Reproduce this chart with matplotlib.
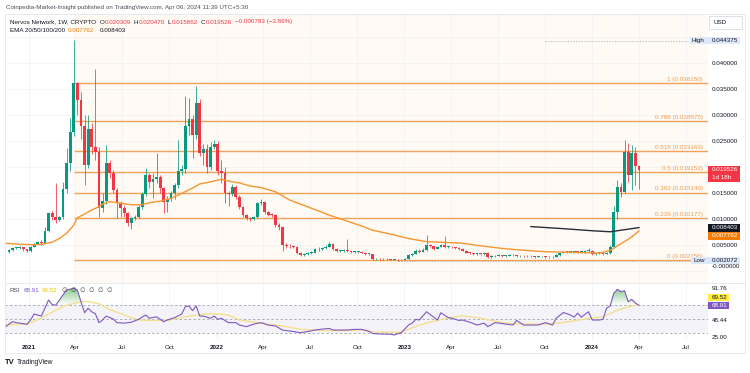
import numpy as np
import pandas as pd
import matplotlib
matplotlib.use("Agg")
import matplotlib.pyplot as plt
import matplotlib.dates as mdates
from matplotlib.transforms import blended_transform_factory, offset_copy, IdentityTransform
from matplotlib.patches import Rectangle, PathPatch
from matplotlib.path import Path
from matplotlib.lines import Line2D

plt.rcParams['font.family'] = ['Liberation Sans', 'DejaVu Sans']

# ---------------- data ----------------
first_week = '2020-11-23'
first_open = 0.0038
closes = [
 0.0041, 0.0045, 0.0045, 0.0046, 0.0042, 0.0039, 0.0047, 0.0053, 0.0056, 0.0055,
 0.0077, 0.0112, 0.0104, 0.0099, 0.0105, 0.0158, 0.0208, 0.0268, 0.0362, 0.0330,
 0.0280, 0.0204, 0.0273, 0.0239, 0.0229, 0.0122, 0.0135, 0.0208, 0.0189, 0.0156,
 0.0131, 0.0122, 0.0112, 0.0093, 0.0102, 0.0105, 0.0124, 0.0149, 0.0185, 0.0172,
 0.0178, 0.0181, 0.0160, 0.0134, 0.0140, 0.0150, 0.0166, 0.0192, 0.0197, 0.0279,
 0.0293, 0.0262, 0.0324, 0.0228, 0.0236, 0.0200, 0.0239, 0.0245, 0.0192, 0.0190,
 0.0151, 0.0148, 0.0163, 0.0143, 0.0124, 0.0108, 0.0102, 0.0101, 0.0105, 0.0131,
 0.0133, 0.0114, 0.0109, 0.0108, 0.0089, 0.0086, 0.0050, 0.0049, 0.0048, 0.0047,
 0.0036, 0.0031, 0.0034, 0.0035, 0.0036, 0.0042, 0.0042, 0.0044, 0.0047, 0.0052,
 0.0042, 0.0039, 0.0039, 0.0040, 0.0039, 0.0037, 0.0038, 0.0038, 0.0036, 0.0033,
 0.0033, 0.0023, 0.0024, 0.0023, 0.0023, 0.0023, 0.0022, 0.0022, 0.0021, 0.0021,
 0.0024, 0.0031, 0.0034, 0.0040, 0.0038, 0.0041, 0.0051, 0.0048, 0.0043, 0.0047,
 0.0050, 0.0047, 0.0047, 0.0046, 0.0045, 0.0043, 0.0040, 0.0036, 0.0035, 0.0033,
 0.0034, 0.0033, 0.0036, 0.0027, 0.0029, 0.0030, 0.0031, 0.0030, 0.0030, 0.0031,
 0.0031, 0.0029, 0.0030, 0.0029, 0.0030, 0.0029, 0.0028, 0.0029, 0.0029, 0.0028,
 0.0027, 0.0028, 0.0031, 0.0036, 0.0038, 0.0037, 0.0038, 0.0038, 0.0037, 0.0037,
 0.0039, 0.0040, 0.0033, 0.0035, 0.0035, 0.0034, 0.0035, 0.0047, 0.0115, 0.0163,
 0.0153, 0.0230, 0.0185, 0.0227, 0.020309, 0.019526,
]
highs = [
 0.0042, 0.0046, 0.0047, 0.0048, 0.0046, 0.0043, 0.0048, 0.0055, 0.0058, 0.0060,
 0.0085, 0.0115, 0.0116, 0.0170, 0.0107, 0.0172, 0.0237, 0.0295, 0.0444, 0.0365,
 0.0345, 0.0300, 0.0300, 0.0285, 0.0390, 0.0240, 0.0150, 0.0243, 0.0215, 0.0195,
 0.0160, 0.0135, 0.0127, 0.0115, 0.0105, 0.0108, 0.0127, 0.0152, 0.0199, 0.0190,
 0.0190, 0.0227, 0.0185, 0.0162, 0.0145, 0.0155, 0.0170, 0.0252, 0.0205, 0.0337,
 0.0333, 0.0300, 0.0356, 0.0331, 0.0245, 0.0245, 0.0248, 0.0252, 0.0250, 0.0215,
 0.0200, 0.0155, 0.0167, 0.0166, 0.0146, 0.0126, 0.0110, 0.0105, 0.0107, 0.0133,
 0.0140, 0.0136, 0.0116, 0.0112, 0.0110, 0.0093, 0.0088, 0.0055, 0.0052, 0.0050,
 0.0048, 0.0038, 0.0036, 0.0037, 0.0040, 0.0045, 0.0046, 0.0046, 0.0050, 0.0056,
 0.0054, 0.0044, 0.0041, 0.0042, 0.0062, 0.0041, 0.0040, 0.0040, 0.0039, 0.0037,
 0.0035, 0.0034, 0.0026, 0.0025, 0.0025, 0.0025, 0.0024, 0.0024, 0.0023, 0.0023,
 0.0025, 0.0033, 0.0036, 0.0043, 0.0042, 0.0044, 0.0070, 0.0053, 0.0049, 0.0049,
 0.0053, 0.0068, 0.0049, 0.0048, 0.0047, 0.0046, 0.0044, 0.0041, 0.0038, 0.0036,
 0.0036, 0.0036, 0.0038, 0.0037, 0.0031, 0.0032, 0.0033, 0.0032, 0.0032, 0.0033,
 0.0033, 0.0032, 0.0032, 0.0031, 0.0031, 0.0031, 0.0030, 0.0030, 0.0030, 0.0030,
 0.0029, 0.0029, 0.0033, 0.0038, 0.0040, 0.0039, 0.0040, 0.0040, 0.0039, 0.0039,
 0.0041, 0.0045, 0.0041, 0.0036, 0.0037, 0.0036, 0.0037, 0.0050, 0.0125, 0.0175,
 0.0170, 0.0252, 0.0247, 0.0243, 0.0240, 0.02047,
]
lows = [
 0.0036, 0.0040, 0.0043, 0.0043, 0.0040, 0.0037, 0.0038, 0.0046, 0.0052, 0.0050,
 0.0054, 0.0075, 0.0098, 0.0093, 0.0096, 0.0100, 0.0150, 0.0192, 0.0260, 0.0300,
 0.0255, 0.0166, 0.0198, 0.0225, 0.0215, 0.0105, 0.0115, 0.0130, 0.0180, 0.0150,
 0.0103, 0.0105, 0.0105, 0.0088, 0.0081, 0.0098, 0.0102, 0.0120, 0.0145, 0.0160,
 0.0141, 0.0170, 0.0150, 0.0112, 0.0115, 0.0135, 0.0140, 0.0160, 0.0185, 0.0190,
 0.0262, 0.0218, 0.0255, 0.0222, 0.0205, 0.0189, 0.0195, 0.0235, 0.0185, 0.0170,
 0.0131, 0.0125, 0.0145, 0.0140, 0.0120, 0.0104, 0.0098, 0.0096, 0.0099, 0.0103,
 0.0128, 0.0110, 0.0106, 0.0104, 0.0085, 0.0080, 0.0040, 0.0045, 0.0045, 0.0044,
 0.0034, 0.0029, 0.0030, 0.0032, 0.0034, 0.0035, 0.0040, 0.0041, 0.0043, 0.0046,
 0.0041, 0.0037, 0.0037, 0.0038, 0.0037, 0.0035, 0.0036, 0.0036, 0.0035, 0.0032,
 0.0031, 0.0022, 0.0022, 0.0022, 0.0021, 0.0021, 0.0021, 0.0021, 0.00207, 0.00208,
 0.00212, 0.0023, 0.0030, 0.0033, 0.0036, 0.0037, 0.0040, 0.0046, 0.0041, 0.0042,
 0.0046, 0.0045, 0.0045, 0.0044, 0.0043, 0.0041, 0.0039, 0.0035, 0.0033, 0.0031,
 0.0032, 0.0031, 0.0032, 0.0025, 0.0026, 0.0028, 0.0029, 0.0028, 0.0028, 0.0029,
 0.0029, 0.0027, 0.0028, 0.0027, 0.0027, 0.0027, 0.0026, 0.0027, 0.0027, 0.0026,
 0.0025, 0.0026, 0.0027, 0.0030, 0.0035, 0.0035, 0.0036, 0.0036, 0.0035, 0.0035,
 0.0036, 0.0038, 0.0031, 0.0032, 0.0033, 0.0032, 0.0033, 0.0034, 0.0045, 0.0100,
 0.0143, 0.0150, 0.0172, 0.0156, 0.0166, 0.015862,
]

ema_fast_weeks = [-1, 3, 7, 9, 12, 14, 16, 18, 19, 21, 23, 25, 26, 28, 30, 32, 34, 37, 39, 42,
                  45, 48, 51, 53, 56, 59, 62, 64, 67, 70, 74, 78, 83, 89, 98, 101, 107, 111, 116, 120,
                  126, 131, 137, 142, 148, 153, 159, 164, 167, 170, 173, 175]
ema_fast_vals = [0.0054, 0.0052, 0.0051, 0.0052, 0.0056, 0.0063, 0.0073, 0.0089, 0.0103, 0.0110,
                 0.0118, 0.0124, 0.0129, 0.0134, 0.0132, 0.0130, 0.0128, 0.0128, 0.0132, 0.0135,
                 0.0140, 0.0150, 0.0160, 0.0168, 0.0172, 0.0177, 0.0172, 0.0170, 0.0164, 0.0161,
                 0.0153, 0.0137, 0.0124, 0.0108, 0.0087, 0.0079, 0.0070, 0.0063, 0.0057, 0.0056,
                 0.0054, 0.0049, 0.0044, 0.0041, 0.0038, 0.0037, 0.0036, 0.0035, 0.0040, 0.0053,
                 0.0066, 0.007762]
ema_slow_weeks = [145, 154, 162, 167, 170, 175]
ema_slow_vals = [0.0086, 0.0082, 0.0078, 0.0076, 0.0079, 0.008403]

rsi_weeks = [-1, 1, 2, 5, 6, 7, 9, 11, 12, 13, 15, 16, 18, 19, 20, 21, 22, 23, 24, 25,
             26, 27, 29, 30, 32, 34, 36, 38, 39, 41, 43, 44, 46, 48, 49, 50, 51, 52, 53, 54,
             56, 57, 58, 59, 61, 63, 64, 66, 68, 70, 72, 74, 76, 77, 79, 81, 83, 85, 87, 89,
             90, 92, 94, 96, 98, 100, 101, 103, 106, 107, 109, 111, 112, 113, 114, 116, 119, 120, 122, 123,
             125, 126, 128, 130, 132, 133, 135, 138, 140, 141, 143, 147, 149, 151, 152, 154, 156, 157, 158, 159,
             161, 162, 164, 165, 166, 167, 168, 169, 170, 171, 172, 173, 174, 175]
rsi_vals = [39.4, 46.3, 45.0, 42.7, 48.6, 56.9, 54.0, 76.2, 70.0, 69.0, 83.0, 90.0, 92.3, 90.0, 74.0, 58.7, 64.8, 59.9, 57.4, 45.0,
            48.6, 54.0, 50.0, 45.0, 44.3, 45.6, 49.5, 55.5, 51.0, 53.0, 46.3, 48.6, 51.8, 57.0, 67.0, 68.0, 61.5, 68.0, 54.0, 54.0,
            51.0, 54.0, 49.5, 51.0, 45.0, 45.0, 41.7, 39.4, 43.0, 45.0, 41.7, 40.4, 34.8, 34.0, 32.7, 31.2, 32.7, 34.8, 36.0, 37.0,
            34.8, 34.8, 34.8, 35.7, 35.7, 33.0, 30.0, 29.3, 29.0, 28.0, 31.2, 41.7, 44.3, 49.5, 48.6, 60.0, 48.6, 58.6, 52.0, 51.0,
            48.0, 48.6, 45.6, 41.7, 44.3, 39.4, 45.0, 43.0, 41.7, 48.0, 41.7, 41.7, 45.0, 41.7, 51.0, 59.0, 55.5, 52.5, 58.0, 52.5,
            60.0, 48.6, 48.6, 49.5, 64.8, 68.0, 85.4, 90.9, 87.6, 89.0, 73.8, 77.0, 72.0, 68.91]
rsi_ma_weeks = [-1, 5, 9, 13, 16, 20, 22, 25, 28, 32, 36, 39, 44, 49, 53, 57, 61, 64, 70, 76,
                81, 87, 92, 98, 102, 109, 114, 120, 126, 131, 138, 143, 149, 154, 160, 165, 169, 173, 175]
rsi_ma_vals = [42.0, 43.0, 51.0, 62.0, 69.0, 74.0, 74.0, 71.0, 63.0, 55.5, 48.6, 48.0, 48.0, 53.0, 56.0, 57.5, 55.5, 48.6, 44.3, 40.4,
               35.7, 34.0, 34.0, 34.8, 31.8, 31.8, 41.7, 49.5, 54.6, 51.0, 44.3, 43.0, 43.0, 45.0, 50.0, 53.0, 62.0, 68.0, 69.52]

fib_start = '2021-03-29'
fib_ratio_labels = ['1', '0.786', '0.618', '0.5', '0.382', '0.236', '0']
fib_prices = [0.036150, 0.028875, 0.023163, 0.019152, 0.015140, 0.010177, 0.002156]

high_value, high_line_start = 0.044375, '2023-10-01'
low_value, low_week = 0.002072, '2022-12-19'
last_close = 0.019526
countdown = '1d 18h'
ema_last = [0.007762, 0.008403]
rsi_last, rsi_ma_last = 68.91, 69.52

price_ticks = [0.040, 0.035, 0.030, 0.025, 0.015, 0.010, 0.005, 0.0]
price_tick_labels = ['0.040000', '0.035000', '0.030000', '0.025000', '0.015000', '0.010000', '0.005000', '-0.000000']
grid_prices = [0.0, 0.005, 0.010, 0.015, 0.020, 0.025, 0.030, 0.035, 0.040, 0.045]
rsi_ticks = [91.76, 48.44, 25.00]
rsi_levels = [70, 50, 30]
time_ticks = pd.date_range('2021-01-01', '2024-07-01', freq='QS')

header = "Coinpedia-Market-Insight published on TradingView.com, Apr 06, 2024 11:39 UTC+5:30"
symbol = "Nervos Network, 1W, CRYPTO"
ohlc_labels = ['O', 'H', 'L', 'C']
ohlc_vals = ['0.020309', '0.020470', '0.015862', '0.019526']
change_txt = '\u22120.000783 (\u22123.86%)'

# ---------------- figure ----------------
W, H = 750, 373
fig = plt.figure(figsize=(W / 100, H / 100), dpi=100)
fig.patch.set_facecolor('white')
def fx(x): return x / W
def fy(y): return 1 - y / H

DARK = '#131722'
RED = '#f23645'
GREEN = '#089981'
ORANGE_EMA = '#f5962f'
FIB = '#f2a35a'
GRID = '#f0f2f6'
PURPLE = '#7e57c2'
FS = 4.5

ref = mdates.date2num(pd.Timestamp('2021-01-01'))
ppd = 3.6 / 7.0
xl = (ref - 24 / ppd, ref + 679 / ppd)

ax = fig.add_axes([fx(5), fy(283), 703 / W, 269 / H])
axr = fig.add_axes([fx(5), fy(340), 703 / W, 57 / H])
for a in (ax, axr):
    a.set_axis_off()

dates = pd.date_range(first_week, periods=len(closes), freq='7D')
dn = mdates.date2num(dates)
opens = [first_open] + closes[:-1]

def wk(weeks):
    return mdates.date2num(pd.Timestamp(first_week) + pd.to_timedelta(np.array(weeks) * 7, unit='D'))

# fib tinted zone & grid
fs_num = mdates.date2num(pd.Timestamp(fib_start))
ax.axvspan(fs_num, xl[1], color='#fffaf4', lw=0, zorder=0)
for d in time_ticks:
    for a in (ax, axr):
        a.axvline(mdates.date2num(d), color=GRID, lw=0.6, zorder=0.5)
for p in grid_prices:
    ax.axhline(p, color=GRID, lw=0.6, zorder=0.5)

# fib levels
ax.hlines(fib_prices, fs_num, xl[1], color=FIB, lw=1.0, zorder=2)
tr_lab = offset_copy(blended_transform_factory(ax.transAxes, ax.transData), fig=fig, x=-5, y=1.2, units='dots')
for lab, p in zip(fib_ratio_labels, fib_prices):
    ax.text(1, p, f'{lab} ({p:.6f})', transform=tr_lab, ha='right', va='bottom',
            fontsize=FS, color='#eb9d52', zorder=6)

# high / low dashed
ax.hlines(high_value, mdates.date2num(pd.Timestamp(high_line_start)), xl[1], color='#a3a6af', lw=0.5,
          ls=(0, (2, 2)), zorder=2)
ax.hlines(low_value, mdates.date2num(pd.Timestamp(low_week)), xl[1], color='#a3a6af', lw=0.5,
          ls=(0, (2, 2)), zorder=2)

# candles
o = np.array(opens); c = np.array(closes)
up = c >= o
cols = np.where(up, GREEN, RED)
bottoms = np.minimum(o, c)
heights = np.maximum(np.abs(c - o), 0.00013)
ax.vlines(dn, lows, highs, colors=cols, lw=0.55, zorder=3)
ax.bar(dn, heights, bottom=bottoms, width=5.4, color=cols, lw=0, zorder=4)

# EMAs
ax.plot(wk(ema_fast_weeks), ema_fast_vals, color=ORANGE_EMA, lw=1.0, zorder=5)
ax.plot(wk(ema_slow_weeks), ema_slow_vals, color='#2a2e39', lw=1.0, zorder=5)

ax.set_xlim(xl)
ax.set_ylim(-0.00225, 0.049481)

# ---------------- RSI pane ----------------
rx = wk(rsi_weeks); rv = np.array(rsi_vals)
axr.axhspan(30, 70, color=PURPLE, alpha=0.07, lw=0, zorder=0)
for lv in rsi_levels:
    axr.axhline(lv, color='#9598a1', lw=0.55, ls=(0, (3, 3)), zorder=1)
fb = axr.fill_between(rx, rv, 70, where=rv > 70, interpolate=True, facecolor='none', edgecolor='none')
paths = fb.get_paths()
if len(paths):
    patch = PathPatch(Path.make_compound_path(*paths), transform=axr.transData, facecolor='none', edgecolor='none')
    axr.add_patch(patch)
    grad = np.zeros((100, 1, 4))
    grad[:, 0, 0], grad[:, 0, 1], grad[:, 0, 2] = 0.30, 0.69, 0.31
    grad[:, 0, 3] = np.linspace(0.0, 0.7, 100)
    im = axr.imshow(grad, extent=[xl[0], xl[1], 70, 94], origin='lower', aspect='auto', zorder=2)
    im.set_clip_path(patch)
axr.plot(wk(rsi_ma_weeks), rsi_ma_vals, color='#f3e08e', lw=1.0, zorder=3)
axr.plot(rx, rv, color=PURPLE, lw=0.8, zorder=4)
axr.set_xlim(xl)
axr.set_ylim(21.03, 99.66)

# time labels
tr_t = blended_transform_factory(axr.transData, axr.transAxes)
for d in time_ticks:
    lab = str(d.year) if d.month == 1 else d.strftime('%b')
    axr.text(mdates.date2num(d), -0.14, lab, transform=tr_t, ha='center', va='center',
             fontsize=FS, color=DARK, fontweight='bold' if d.month == 1 else 'normal')

# ---------------- right price scale ----------------
tr_ax = offset_copy(blended_transform_factory(ax.transAxes, ax.transData), fig=fig, x=4, y=0, units='dots')
for p, lab in zip(price_ticks, price_tick_labels):
    dy = 5 if p == 0 else 0
    t = offset_copy(tr_ax, fig=fig, x=0, y=dy, units='dots')
    ax.text(1, p, lab, transform=t, ha='left', va='center', fontsize=FS, color=DARK)

tr_r = offset_copy(blended_transform_factory(axr.transAxes, axr.transData), fig=fig, x=4, y=0, units='dots')
for v in rsi_ticks:
    axr.text(1, v, f'{v:.2f}', transform=tr_r, ha='left', va='center', fontsize=FS, color=DARK)

I = IdentityTransform()
def ybox(a, v):
    return a.transData.transform((xl[0], v))[1]

def box(x0, yc, w, h, face, text, tcol, tx=None, ec='none'):
    fig.add_artist(Rectangle((x0, H - (yc + h / 2)), w, h, transform=I, facecolor=face, edgecolor=ec, lw=0.6, zorder=20))
    if text:
        fig.text((tx if tx is not None else x0 + 4) / W, fy(yc), text, ha='left', va='center', fontsize=FS,
                 color=tcol, zorder=21)

def ytop(a, v):
    return H - ybox(a, v)

# USD
box(709, 22.7, 33, 13, 'white', 'USD', DARK, ec='#d8dbe2')
# high / low
yh = ytop(ax, high_value)
box(690, yh, 18, 7, '#dde9fb', 'High', DARK, tx=692)
box(708, yh, 32, 7, '#dde9fb', f'{high_value:.6f}', DARK)
yl = ytop(ax, low_value)
box(691, yl, 17, 7, '#dde9fb', 'Low', DARK, tx=694)
box(708, yl, 32, 7, '#dde9fb', f'{low_value:.6f}', DARK)
# current price
yc = ytop(ax, last_close)
fig.add_artist(Rectangle((708, H - (yc + 12)), 32, 16, transform=I, facecolor=RED, edgecolor='none', zorder=20))
fig.text(fx(712), fy(yc), f'{last_close:.6f}', ha='left', va='center', fontsize=FS, color='white', zorder=21)
fig.text(fx(712), fy(yc + 8), countdown, ha='left', va='center', fontsize=FS, color='white', zorder=21)
# EMA last values
ys = ytop(ax, ema_last[1])
box(708, ys, 32, 8, DARK, f'{ema_last[1]:.6f}', 'white')
box(708, ys + 8.3, 32, 8, '#f57c00', f'{ema_last[0]:.6f}', 'white')
# RSI last values
yr = ytop(axr, rsi_last)
box(708, yr, 21, 7.5, PURPLE, f'{rsi_last:.2f}', 'white')
box(708, yr - 8, 21, 7.5, '#ffeb3b', f'{rsi_ma_last:.2f}', DARK)

# ---------------- legends / header ----------------
fig.canvas.draw()
renderer = fig.canvas.get_renderer()

def chain(x, y, segs):
    for s, col, g in segs:
        t = fig.text(fx(x), fy(y), s, ha='left', va='center', fontsize=FS, color=col, zorder=22)
        bb = t.get_window_extent(renderer)
        x = bb.x1 + g

fig.text(fx(6), fy(7), header, ha='left', va='center', fontsize=FS, color='#4a4e59')
segs = [(symbol, DARK, 3.5)]
for l, v in zip(ohlc_labels, ohlc_vals):
    segs.append((l, DARK, 0.3))
    segs.append((v, RED, 3.0))
segs.append((change_txt, RED, 0))
chain(10, 22, segs)
chain(10, 31, [('EMA 20/50/100/200', DARK, 3.0), (f'{ema_last[0]:.6f}', '#f57c00', 5.0),
               (f'{ema_last[1]:.6f}', DARK, 0)])
chain(10, 291, [('RSI', '#4a4e59', 3.0), (f'{rsi_last:.2f}', PURPLE, 3.0),
                (f'{rsi_ma_last:.2f}', '#e8c900', 4.0), ('\u2205  \u2205  \u2205  \u2205  \u2205  \u2205', '#4a4e59', 0)])

# borders
for (x0, y0, x1, y1) in [(5, 14, 745, 14), (5, 283, 745, 283), (5, 353, 745, 353),
                         (5, 14, 5, 353), (745, 14, 745, 353)]:
    fig.add_artist(Line2D([fx(x0), fx(x1)], [fy(y0), fy(y1)], color='#e3e6ec', lw=0.6))

# logo
fig.text(fx(5), fy(363), 'TV', ha='left', va='center', fontsize=5.5, color=DARK, fontweight='bold')
fig.text(fx(17), fy(363), 'TradingView', ha='left', va='center', fontsize=FS + 0.3, color=DARK)

fig.savefig('out.png', dpi=100)
